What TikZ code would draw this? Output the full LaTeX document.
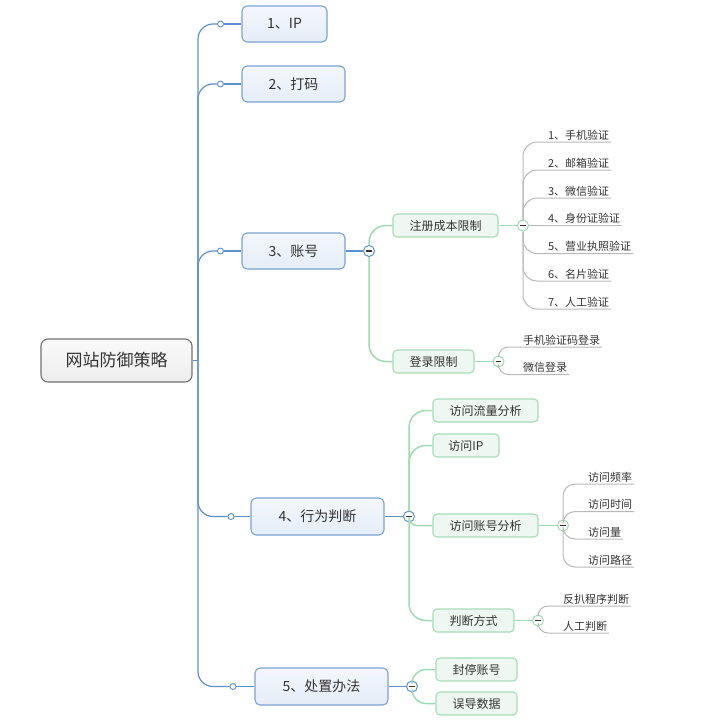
\documentclass[tikz,border=0pt]{standalone}
\usepackage{fontspec}
\setmainfont{Noto Sans CJK SC}
\definecolor{bl}{HTML}{5E8FCB}
\definecolor{blb}{HTML}{7AA2D3}
\definecolor{bft}{HTML}{F4F7FC}
\definecolor{bfb}{HTML}{E5EDF8}
\definecolor{gr}{HTML}{9FDAB2}
\definecolor{grb}{HTML}{A6DCB7}
\definecolor{gf}{HTML}{EEF7F1}
\definecolor{gy}{HTML}{B8B8B8}
\definecolor{dk}{HTML}{333333}
\definecolor{rb}{HTML}{707070}
\definecolor{rft}{HTML}{FAFAFA}
\definecolor{rfb}{HTML}{EDEDED}
\tikzset{
  rootbox/.style={draw=rb, line width=1.1pt, rounded corners=7pt, top color=rft, bottom color=rfb, text=dk, font=\fontsize{17}{20}\selectfont, inner sep=0pt},
  onebox/.style={draw=blb, line width=1.1pt, rounded corners=5pt, top color=bft, bottom color=bfb, text=dk, font=\fontsize{14}{17}\selectfont, inner sep=0pt, minimum height=36pt},
  twobox/.style={draw=grb, line width=1.1pt, rounded corners=4pt, fill=gf, text=dk, font=\fontsize{12}{14}\selectfont, inner sep=0pt, minimum height=23pt},
  leaf/.style={anchor=south west, inner xsep=2pt, inner ysep=2pt, outer sep=0pt, text=dk, font=\fontsize{11}{13}\selectfont},
  jdot/.style={circle, draw=bl, fill=white, line width=0.9pt, inner sep=0pt, minimum size=6pt},
  fold/.style={circle, draw=#1, fill=white, line width=1pt, inner sep=0pt, minimum size=11pt,
    path picture={\draw[dk, line width=1.2pt] ([xshift=-2.6pt]path picture bounding box.center) -- ([xshift=2.6pt]path picture bounding box.center);}},
  bline/.style={draw=bl, line width=1.2pt},
  gline/.style={draw=gr, line width=1.5pt},
  yline/.style={draw=gy, line width=1pt},
}
\begin{document}
\begin{tikzpicture}[x=1pt,y=-1pt]
\useasboundingbox (0,0) rectangle (706,720);

% root and level 1
\node[rootbox, minimum width=151pt, minimum height=43pt] (root) at (116.5,360.5) {网站防御策略};
\coordinate (t) at (198,360.5);
\node[onebox, minimum width=85pt] (n1) at (284.5,24) {1、IP};
\node[onebox, minimum width=103pt] (n2) at (293.5,84) {2、打码};
\node[onebox, minimum width=103pt] (n3) at (293.5,251) {3、账号};
\node[onebox, minimum width=133pt, minimum height=37pt] (n4) at (317.5,516.5) {4、行为判断};
\node[onebox, minimum width=133pt, minimum height=37pt] (n5) at (321.5,686.5) {5、处置办法};

\node[jdot] (j1) at (220.5,24) {};
\node[jdot] (j2) at (220.5,84) {};
\node[jdot] (j3) at (220.5,251) {};
\node[jdot] (j4) at (231,516.5) {};
\node[jdot] (j5) at (233,686.5) {};

\node[fold=bl] (k3) at (369,251) {};
\node[fold=bl] (k4) at (409,516.5) {};
\node[fold=bl] (k5) at (412,686.5) {};

% level 2
\node[twobox, minimum width=105pt] (a1) at (445.5,225.5) {注册成本限制};
\node[twobox, minimum width=81pt] (a2) at (433.5,361.5) {登录限制};
\node[twobox, minimum width=105pt] (b1) at (485.5,410.5) {访问流量分析};
\node[twobox, minimum width=66pt] (b2) at (466,445.5) {访问IP};
\node[twobox, minimum width=105pt] (b3) at (485.5,525.5) {访问账号分析};
\node[twobox, minimum width=81pt] (b4) at (473.5,620.5) {判断方式};
\node[twobox, minimum width=81pt] (c1) at (476.5,669.5) {封停账号};
\node[twobox, minimum width=81pt] (c2) at (476.5,703.5) {误导数据};

\node[fold=gr] (ka1) at (523,225.5) {};
\node[fold=gr] (ka2) at (498.5,361.5) {};
\node[fold=gr] (kb3) at (563,525.5) {};
\node[fold=gr] (kb4) at (538,620.5) {};

% leaves
\node[leaf] (p1) at (546,142) {1、手机验证};
\node[leaf] (p2) at (546,170) {2、邮箱验证};
\node[leaf] (p3) at (546,198) {3、微信验证};
\node[leaf] (p4) at (546,225.5) {4、身份证验证};
\node[leaf] (p5) at (546,253.5) {5、营业执照验证};
\node[leaf] (p6) at (546,281) {6、名片验证};
\node[leaf] (p7) at (546,309) {7、人工验证};
\node[leaf] (q1) at (521,347) {手机验证码登录};
\node[leaf] (q2) at (521,374.5) {微信登录};
\node[leaf] (r1) at (586,484) {访问频率};
\node[leaf] (r2) at (586,511.5) {访问时间};
\node[leaf] (r3) at (586,539) {访问量};
\node[leaf] (r4) at (586,567) {访问路径};
\node[leaf] (s1) at (561,606) {反扒程序判断};
\node[leaf] (s2) at (561,633) {人工判断};

% connectors: blue
\draw[bline] (root.east) -- (t);
\draw[bline, rounded corners=15pt] (t) |- (j1);
\draw[bline, rounded corners=15pt] (t) |- (j2);
\draw[bline, rounded corners=15pt] (t) |- (j3);
\draw[bline, rounded corners=15pt] (t) |- (j4);
\draw[bline, rounded corners=15pt] (t) |- (j5);
\draw[bline] (j1) -- (n1.west);
\draw[bline] (j2) -- (n2.west);
\draw[bline] (j3) -- (n3.west);
\draw[bline] (j4) -- (n4.west);
\draw[bline] (j5) -- (n5.west);
\draw[bline] (n3.east) -- (k3);
\draw[bline] (n4.east) -- (k4);
\draw[bline] (n5.east) -- (k5);

% green
\draw[gline, rounded corners=17pt] (k3) |- (a1.west);
\draw[gline, rounded corners=17pt] (k3) |- (a2.west);
\draw[gline, rounded corners=17pt] (k4) |- (b1.west);
\draw[gline, rounded corners=17pt] (k4) |- (b2.west);
\draw[gline, rounded corners=8pt] (k4) |- (b3.west);
\draw[gline, rounded corners=17pt] (k4) |- (b4.west);
\draw[gline, rounded corners=14pt] (k5) |- (c1.west);
\draw[gline, rounded corners=14pt] (k5) |- (c2.west);
\draw[gline] (a1.east) -- (ka1);
\draw[gline] (a2.east) -- (ka2);
\draw[gline] (b3.east) -- (kb3);
\draw[gline] (b4.east) -- (kb4);

% gray
\draw[yline, rounded corners=14pt] (ka1) |- (p1.south east);
\draw[yline, rounded corners=14pt] (ka1) |- (p2.south east);
\draw[yline, rounded corners=14pt] (ka1) |- (p3.south east);
\draw[yline] (ka1) -- (p4.south east);
\draw[yline, rounded corners=14pt] (ka1) |- (p5.south east);
\draw[yline, rounded corners=14pt] (ka1) |- (p6.south east);
\draw[yline, rounded corners=14pt] (ka1) |- (p7.south east);
\draw[yline, rounded corners=10pt] (ka2) |- (q1.south east);
\draw[yline, rounded corners=10pt] (ka2) |- (q2.south east);
\draw[yline, rounded corners=12pt] (kb3) |- (r1.south east);
\draw[yline, rounded corners=12pt] (kb3) |- (r2.south east);
\draw[yline, rounded corners=12pt] (kb3) |- (r3.south east);
\draw[yline, rounded corners=12pt] (kb3) |- (r4.south east);
\draw[yline, rounded corners=10pt] (kb4) |- (s1.south east);
\draw[yline, rounded corners=10pt] (kb4) |- (s2.south east);
\end{tikzpicture}
\end{document}
